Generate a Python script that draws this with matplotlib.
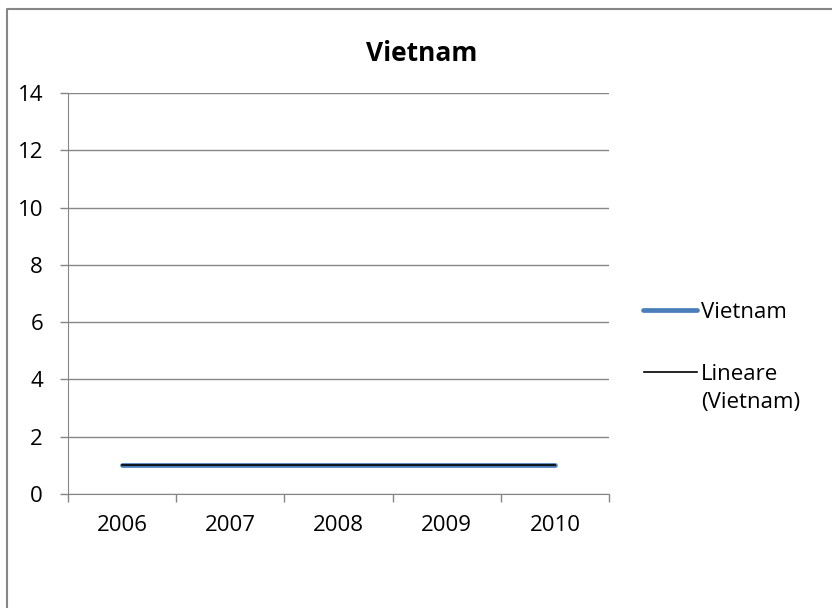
import matplotlib.pyplot as plt
from matplotlib.lines import Line2D
import numpy as np

years = ['2006', '2007', '2008', '2009', '2010']
vietnam = [1, 1, 1, 1, 1]

plt.rcParams['font.family'] = ['Open Sans', 'DejaVu Sans']

W, H = 832, 608
fig = plt.figure(figsize=(W / 100, H / 100), dpi=100)


def fx(px):
    return px / W


def fy(py):
    return 1 - py / H


# chart border (only top and left edges fall inside the image)
fig.add_artist(Line2D([fx(7), fx(7), fx(832)], [fy(608), fy(9), fy(9)],
                      transform=fig.transFigure, color='#868686',
                      linewidth=1.5))

ax = fig.add_axes([fx(68), fy(494), (609 - 68) / W, (494 - 93) / H])

x = np.arange(len(years))
ax.plot(x, vietnam, color='#4a7ebb', linewidth=3.4, solid_capstyle='round')
# linear trend of the series
coef = np.polyfit(x, vietnam, 1)
ax.plot(x, np.polyval(coef, x), color='black', linewidth=1.2)

ax.set_xlim(-0.5, len(years) - 0.5)
ax.set_ylim(0, 14)
ax.set_yticks(range(0, 15, 2))
ax.set_xticks(x)
ax.set_xticklabels(years)
ax.set_xticks(np.arange(-0.5, len(years), 1), minor=True)
ax.tick_params(axis='x', which='major', length=0, pad=15, labelsize=16)
ax.tick_params(axis='x', which='minor', length=6, color='#868686', width=1)
ax.tick_params(axis='y', length=6, color='#868686', width=1, labelsize=16,
               pad=12)
ax.grid(axis='y', color='#868686', linewidth=1)
ax.set_axisbelow(True)
for side in ['top', 'right']:
    ax.spines[side].set_visible(False)
for side in ['left', 'bottom']:
    ax.spines[side].set_color('#868686')

fig.text(fx(422), fy(61), 'Vietnam', ha='center', va='baseline',
         fontsize=19, fontweight='bold')

# legend entries
fig.add_artist(Line2D([fx(643), fx(697)], [fy(310)] * 2,
                      transform=fig.transFigure, color='#4a7ebb',
                      linewidth=3.4, solid_capstyle='round'))
fig.text(fx(701), fy(318), 'Vietnam', ha='left', va='baseline',
         fontsize=16)
fig.add_artist(Line2D([fx(644), fx(697)], [fy(372)] * 2,
                      transform=fig.transFigure, color='black',
                      linewidth=1.2))
fig.text(fx(701), fy(380), 'Lineare', ha='left', va='baseline',
         fontsize=16)
fig.text(fx(701), fy(408), '(Vietnam)', ha='left', va='baseline',
         fontsize=16)

fig.savefig('out.png', dpi=100)
